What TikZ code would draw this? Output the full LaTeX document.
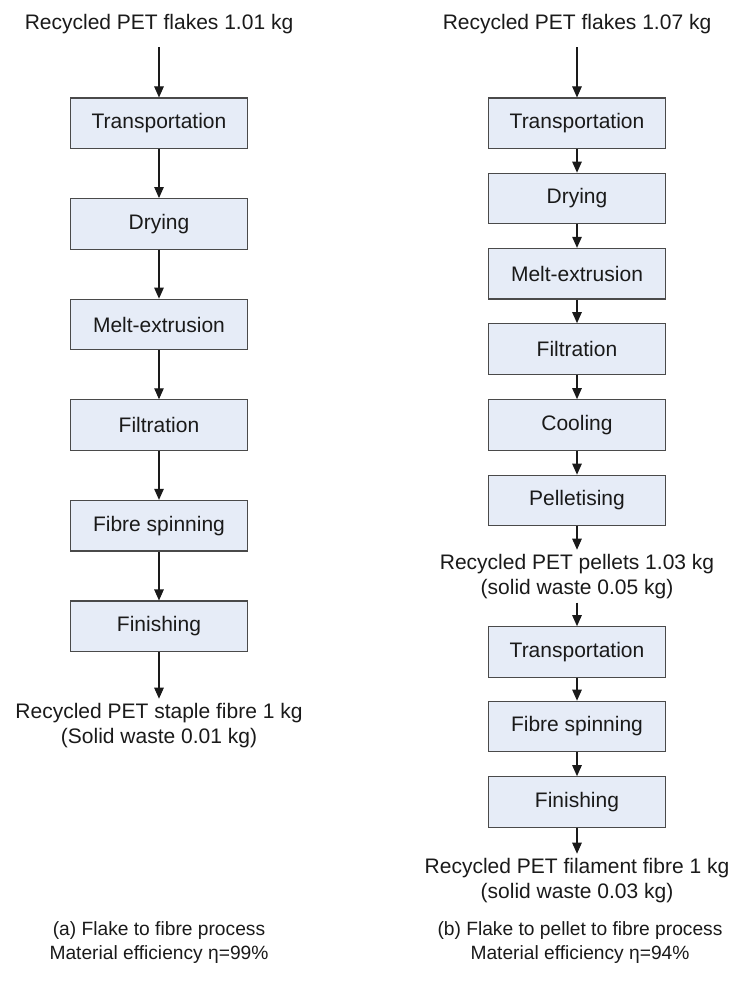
\documentclass[tikz,border=0pt]{standalone}
\usepackage{fontspec}
\setmainfont{Liberation Sans}
\usetikzlibrary{arrows.meta}
\definecolor{boxfill}{HTML}{E6ECF7}
\definecolor{boxline}{HTML}{4A4A4A}
\definecolor{ink}{HTML}{1A1A1A}
\begin{document}
\begin{tikzpicture}[x=1pt,y=-1pt,
  stepbox/.style={draw=boxline, fill=boxfill, line width=1.2pt,
    minimum width=177pt, minimum height=50.5pt, inner sep=0pt,
    font=\fontsize{21}{25}\selectfont, text=ink},
  flowtext/.style={align=center, inner xsep=0pt, inner ysep=4pt,
    font=\fontsize{21}{25}\selectfont, text=ink, anchor=north},
  captext/.style={align=center, inner sep=0pt,
    font=\fontsize{19.2}{24}\selectfont, text=ink, anchor=north},
  flow/.style={draw=ink, line width=1.1pt, -{Triangle[length=11pt,width=9.5pt]}},
]
\useasboundingbox[fill=white] (0,0) rectangle (731,981);

% (a) flake to fibre
\node[flowtext] (inA) at (159,9.7) {Recycled PET flakes 1.01 kg};
\node[stepbox] (a1) at (159,123.3) {Transportation};
\node[stepbox] (a2) at (159,223.9) {Drying};
\node[stepbox] (a3) at (159,324.5) {Melt-extrusion};
\node[stepbox] (a4) at (159,425.1) {Filtration};
\node[stepbox] (a5) at (159,525.7) {Fibre spinning};
\node[stepbox] (a6) at (159,626.3) {Finishing};
\node[flowtext] (outA) at (159,698.7) {Recycled PET staple fibre 1 kg\\(Solid waste 0.01 kg)};

\draw[flow, shorten <=9.6pt] (inA.south) -- (a1.north);
\draw[flow] (a1) -- (a2);
\draw[flow] (a2) -- (a3);
\draw[flow] (a3) -- (a4);
\draw[flow] (a4) -- (a5);
\draw[flow] (a5) -- (a6);
\draw[flow] (a6) -- (outA.north);

% (b) flake to pellet to fibre
\node[flowtext] (inB) at (577,9.7) {Recycled PET flakes 1.07 kg};
\node[stepbox] (b1) at (577,123.3) {Transportation};
\node[stepbox] (b2) at (577,198.5) {Drying};
\node[stepbox] (b3) at (577,273.7) {Melt-extrusion};
\node[stepbox] (b4) at (577,349.0) {Filtration};
\node[stepbox] (b5) at (577,425.0) {Cooling};
\node[stepbox] (b6) at (577,500.5) {Pelletising};
\node[flowtext] (midB) at (577,549.7) {Recycled PET pellets 1.03 kg\\(solid waste 0.05 kg)};
\node[stepbox] (b7) at (577,652.0) {Transportation};
\node[stepbox] (b8) at (577,726.5) {Fibre spinning};
\node[stepbox] (b9) at (577,802.0) {Finishing};
\node[flowtext] (outB) at (577,853.7) {Recycled PET filament fibre 1 kg\\(solid waste 0.03 kg)};

\draw[flow, shorten <=9.6pt] (inB.south) -- (b1.north);
\draw[flow] (b1) -- (b2);
\draw[flow] (b2) -- (b3);
\draw[flow] (b3) -- (b4);
\draw[flow] (b4) -- (b5);
\draw[flow] (b5) -- (b6);
\draw[flow] (b6) -- (midB.north);
\draw[flow] (midB.south) -- (b7.north);
\draw[flow] (b7) -- (b8);
\draw[flow] (b8) -- (b9);
\draw[flow] (b9) -- (outB.north);

% captions
\node[captext] (capA) at (159,921) {(a) Flake to fibre process\\Material efficiency η=99\%};
\node[captext] (capB) at (580,921) {(b) Flake to pellet to fibre process\\Material efficiency η=94\%};
\end{tikzpicture}
\end{document}
